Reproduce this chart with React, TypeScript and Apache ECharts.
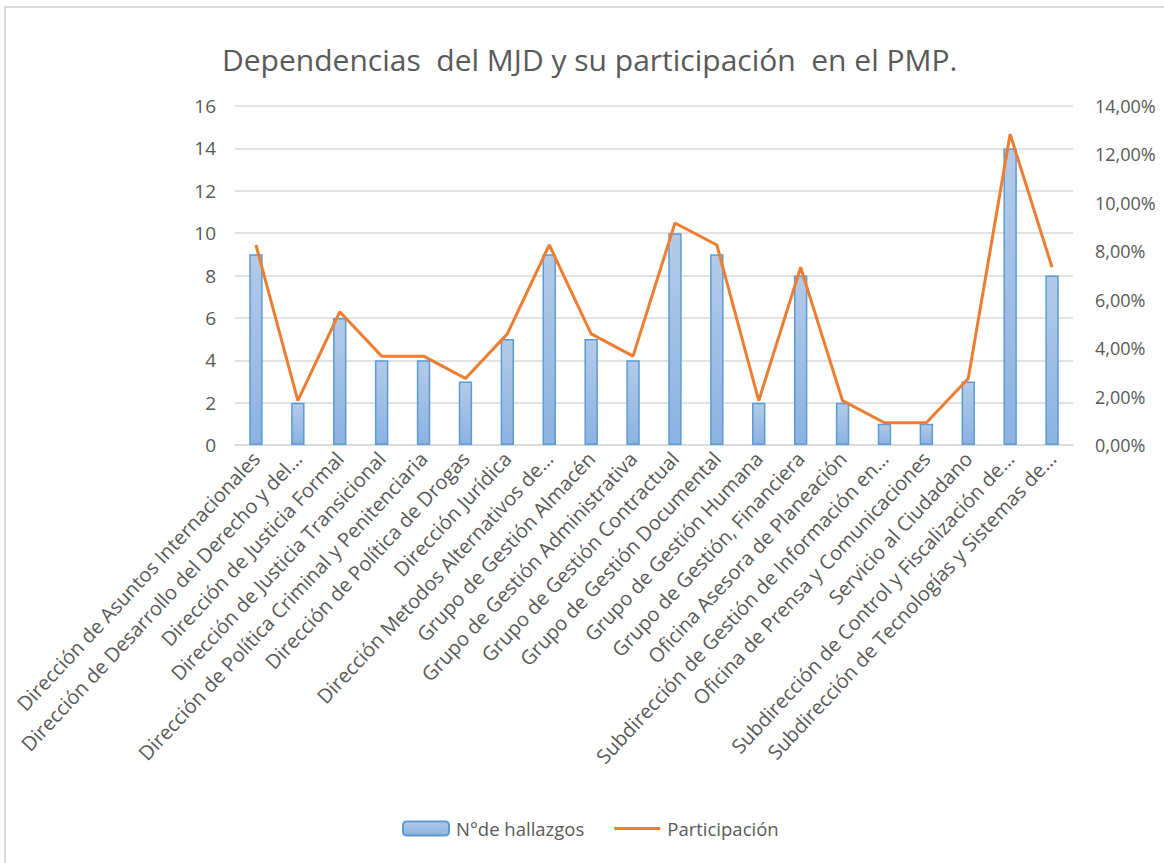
import React, { useEffect, useRef } from "react";
import * as echarts from "echarts";

const titleText = "Dependencias  del MJD y su participación  en el PMP.";

const categories = [
  "Dirección de Asuntos Internacionales",
  "Dirección de Desarrollo del Derecho y del…",
  "Dirección de Justicia Formal",
  "Dirección de Justicia Transicional",
  "Dirección de Política Criminal y Penitenciaria",
  "Dirección de Política de Drogas",
  "Dirección Jurídica",
  "Dirección Metodos Alternativos de…",
  "Grupo de Gestión Almacén",
  "Grupo de Gestión Administrativa",
  "Grupo de Gestión Contractual",
  "Grupo de Gestión Documental",
  "Grupo de Gestión Humana",
  "Grupo de Gestión, Financiera",
  "Oficina Asesora de Planeación",
  "Subdirección de Gestión de Información en…",
  "Oficina de Prensa y Comunicaciones",
  "Servicio al Ciudadano",
  "Subdirección de Control y Fiscalización de…",
  "Subdirección de Tecnologías y Sistemas de…",
];

const hallazgos = [9, 2, 6, 4, 4, 3, 5, 9, 5, 4, 10, 9, 2, 8, 2, 1, 1, 3, 14, 8];

const participacion = [
  0.0826, 0.0183, 0.055, 0.0367, 0.0367, 0.0275, 0.0459, 0.0826, 0.0459, 0.0367,
  0.0917, 0.0826, 0.0183, 0.0734, 0.0183, 0.0092, 0.0092, 0.0275, 0.1284, 0.0734,
];

const seriesNames = ["N°de hallazgos", "Participación"];

const FONT = "'Open Sans', 'Noto Sans', sans-serif";
const GRAY = "#595959";
const GRID = "#d9d9d9";

export default function App() {
  const ref = useRef<HTMLDivElement>(null);
  useEffect(() => {
    if (!ref.current) return;
    const chart = echarts.init(ref.current, undefined, { renderer: "svg" });
    chart.setOption({
      animation: false,
      backgroundColor: "#ffffff",
      textStyle: { fontFamily: FONT },
      title: {
        text: titleText,
        left: 217,
        top: 39,
        textStyle: { fontFamily: FONT, fontSize: 30, fontWeight: "normal", color: GRAY },
      },
      graphic: [
        {
          type: "rect",
          shape: { x: 5, y: 7, width: 1250, height: 950 },
          style: { fill: "none", stroke: GRID, lineWidth: 2 },
          silent: true,
        },
      ],
      legend: {
        bottom: 20,
        left: 397,
        itemWidth: 46,
        itemHeight: 14,
        itemGap: 30,
        textStyle: { fontFamily: FONT, fontSize: 18.5, color: GRAY, padding: [0, 0, 0, 2] },
        data: [
          { name: seriesNames[0] },
          { name: seriesNames[1], icon: "path://M0 0 H46 V3 H0 Z" },
        ],
      },
      grid: { left: 235, right: 91, top: 106, bottom: 418, containLabel: false },
      xAxis: {
        type: "category",
        data: categories,
        axisLine: { lineStyle: { color: GRID, width: 1.5 } },
        axisTick: { show: false },
        axisLabel: {
          rotate: 47,
          interval: 0,
          fontSize: 20,
          color: GRAY,
          fontFamily: FONT,
          margin: 10,
        },
      },
      yAxis: [
        {
          type: "value",
          min: 0,
          max: 16,
          interval: 2,
          axisLine: { show: false },
          axisTick: { show: false },
          splitLine: { lineStyle: { color: GRID, width: 1.5 } },
          axisLabel: { fontSize: 19, color: GRAY, fontFamily: FONT, margin: 19 },
        },
        {
          type: "value",
          min: 0,
          max: 0.14,
          interval: 0.02,
          position: "right",
          axisLine: { show: false },
          axisTick: { show: false },
          splitLine: { show: false },
          axisLabel: {
            fontSize: 18,
            color: GRAY,
            fontFamily: FONT,
            margin: 22,
            formatter: (v: number) => (v * 100).toFixed(2).replace(".", ",") + "%",
          },
        },
      ],
      series: [
        {
          name: seriesNames[0],
          type: "bar",
          data: hallazgos,
          yAxisIndex: 0,
          barWidth: "32%",
          itemStyle: {
            color: new echarts.graphic.LinearGradient(0, 0, 0, 1, [
              { offset: 0, color: "#b3cbe9" },
              { offset: 1, color: "#8bb2e1" },
            ]),
            borderColor: "#5b9bd5",
            borderWidth: 1.5,
          },
        },
        {
          name: seriesNames[1],
          type: "line",
          data: participacion,
          yAxisIndex: 1,
          symbol: "none",
          lineStyle: { color: "#ed7d31", width: 3 },
          itemStyle: { color: "#ed7d31" },
        },
      ],
    });
    return () => chart.dispose();
  }, []);
  return (
    <div
      ref={ref}
      style={{ position: "absolute", left: 0, top: 0, width: 1164, height: 863 }}
    />
  );
}
